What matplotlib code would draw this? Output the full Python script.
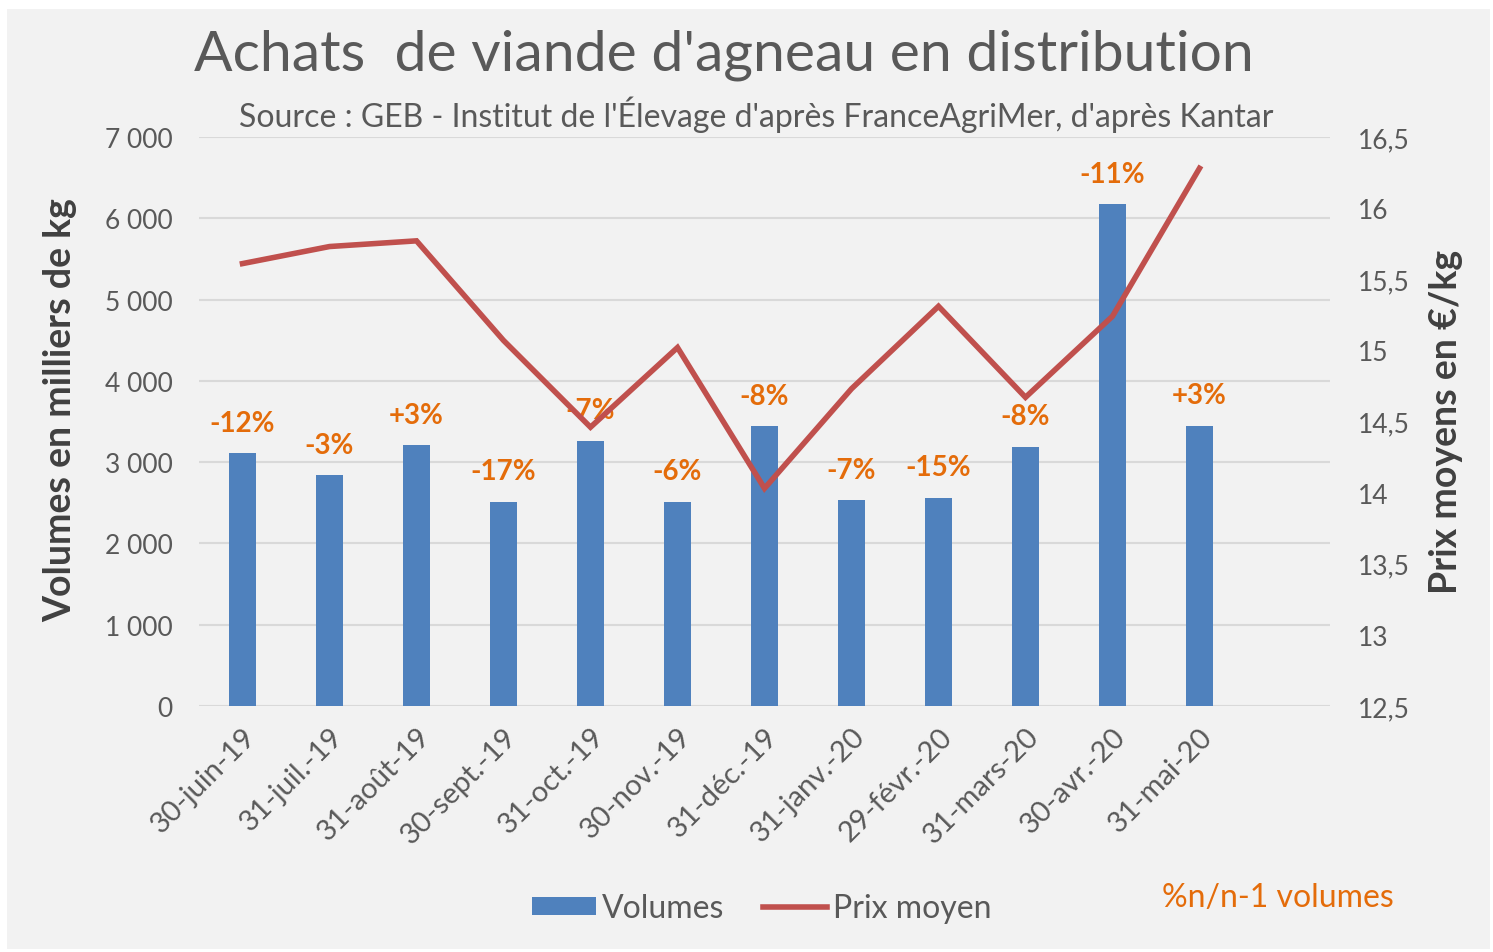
import matplotlib
matplotlib.use("Agg")
import matplotlib.pyplot as plt
from matplotlib.patches import Rectangle, Patch
from matplotlib.lines import Line2D
from matplotlib.ticker import FuncFormatter, MultipleLocator

plt.rcParams['font.family'] = ['Lato', 'DejaVu Sans']

# ---- data ----
categories = ["30-juin-19", "31-juil.-19", "31-août-19", "30-sept.-19", "31-oct.-19",
              "30-nov.-19", "31-déc.-19", "31-janv.-20", "29-févr.-20", "31-mars-20",
              "30-avr.-20", "31-mai-20"]
volumes = [3110, 2840, 3210, 2510, 3260, 2510, 3440, 2530, 2560, 3190, 6175, 3450]
prix = [15.61, 15.73, 15.77, 15.07, 14.46, 15.02, 14.03, 14.73, 15.31, 14.67, 15.24, 16.28]
evol_labels = ["-12%", "-3%", "+3%", "-17%", "-7%", "-6%", "-8%", "-7%", "-15%",
               "-8%", "-11%", "+3%"]

title = "Achats  de viande d'agneau en distribution"
subtitle = "Source : GEB - Institut de l'Élevage d'après FranceAgriMer, d'après Kantar"

BLUE = "#4F81BD"
RED = "#C0504D"
ORANGE = "#E46C0A"
GRAY = "#595959"
BG = "#F2F2F2"
GRID = "#D9D9D9"

W, H = 1493, 953
fig = plt.figure(figsize=(W / 100, H / 100), dpi=100, facecolor="white")
fig.patches.append(Rectangle((7 / W, 1 - 950 / H), (1490 - 7) / W, (950 - 10) / H,
                             transform=fig.transFigure, facecolor=BG, edgecolor="none",
                             zorder=-10))

ax = fig.add_axes([199 / W, 1 - 707 / H, (1330 - 199) / W, (707 - 138) / H])
ax.set_facecolor("none")
x = list(range(len(categories)))
ax.bar(x, volumes, width=0.31, color=BLUE, zorder=2)
ax.set_xlim(-0.5, len(categories) + 0.5)
ax.set_ylim(0, 7000)
ax.yaxis.set_major_locator(MultipleLocator(1000))
ax.yaxis.set_major_formatter(FuncFormatter(lambda v, p: f"{int(v):,}".replace(",", " ")))
ax.grid(axis="y", color=GRID, linewidth=1.5, zorder=0)
ax.set_axisbelow(True)
for s in ax.spines.values():
    s.set_visible(False)
ax.tick_params(axis="y", length=0, pad=19, labelsize=19, labelcolor=GRAY)
ax.tick_params(axis="x", length=0, pad=12, labelsize=21, labelcolor=GRAY)
ax.set_xticks(x)
ax.set_xticklabels(categories, rotation=45, ha="right", rotation_mode="anchor")

for xi, v, lab in zip(x, volumes, evol_labels):
    ax.annotate(lab, (xi, v), xytext=(0, 22), textcoords="offset points",
                ha="center", va="center", color=ORANGE, fontsize=20, fontweight="bold",
                zorder=5)

ax2 = ax.twinx()
ax2.plot(x, prix, color=RED, linewidth=4, solid_joinstyle="miter", zorder=4)
ax2.set_ylim(12.5, 16.5)
ax2.yaxis.set_major_locator(MultipleLocator(0.5))
ax2.yaxis.set_major_formatter(FuncFormatter(lambda v, p: f"{v:g}".replace(".", ",")))
for s in ax2.spines.values():
    s.set_visible(False)
ax2.tick_params(axis="y", length=0, pad=20, labelsize=19, labelcolor=GRAY)

fig.text(60 / W, 1 - 410 / H, "Volumes en milliers de kg", rotation=90, ha="center",
         va="center", fontsize=27, fontweight="bold", color="#404040")
fig.text(1446 / W, 1 - 422 / H, "Prix moyens en €/kg", rotation=90, ha="center",
         va="center", fontsize=27, fontweight="bold", color="#404040")

fig.text(724 / W, 1 - 55 / H, title, ha="center", va="center", fontsize=41, color=GRAY)
fig.text(756 / W, 1 - 115 / H, subtitle, ha="center", va="center", fontsize=23, color=GRAY)

handles = [Patch(facecolor=BLUE, edgecolor="none"),
           Line2D([0], [0], color=RED, linewidth=4)]
fig.legend(handles, ["Volumes", "Prix moyen"], loc="center",
           bbox_to_anchor=(762 / W, 1 - 909 / H), ncol=2, frameon=False, fontsize=23,
           labelcolor=GRAY, handlelength=2.0, handleheight=0.5, handletextpad=0.2,
           columnspacing=1.2)

fig.text(1278 / W, 1 - 898 / H, "%n/n-1 volumes", ha="center", va="center",
         fontsize=23, color=ORANGE)

fig.savefig("out.png", dpi=100, facecolor=fig.get_facecolor())
